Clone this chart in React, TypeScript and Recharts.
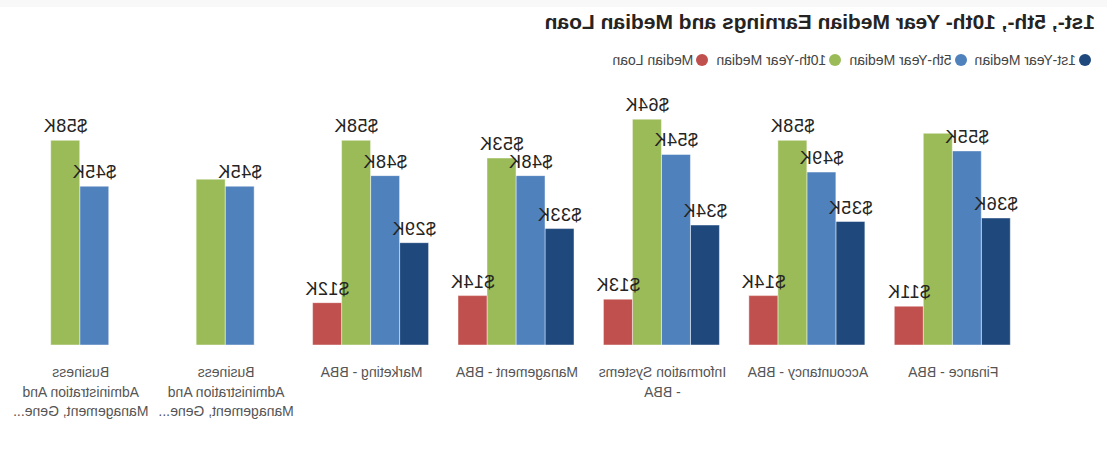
import { BarChart, Bar, XAxis, YAxis, LabelList } from 'recharts';

const categories = [
  'Finance - BBA',
  'Accountancy - BBA',
  'Information Systems - BBA',
  'Management - BBA',
  'Marketing - BBA',
  'Business Administration And Management, General',
  'Business Administration And Management, General',
];

// values in $K
const firstYear = [36, 35, 34, 33, 29, null, null];
const fifthYear = [55, 49, 54, 48, 48, 45, 45];
const tenthYear = [60, 58, 64, 53, 58, 47, 58];
const medianLoan = [11, 14, 13, 14, 12, null, null];

const seriesKeys = ['first', 'fifth', 'tenth', 'loan'];
const seriesNames = ['1st-Year Median', '5th-Year Median', '10th-Year Median', 'Median Loan'];
const seriesColors = ['#1F497D', '#4F81BD', '#9BBB59', '#C0504D'];

// data labels the original report leaves out (overlapping ones)
const hiddenLabels = [
  { index: 0, key: 'tenth' },
  { index: 5, key: 'tenth' },
];

const data = categories.map((category, i) => ({
  category,
  first: firstYear[i],
  fifth: fifthYear[i],
  tenth: tenthYear[i],
  loan: medianLoan[i],
}));

const FONT = '"Liberation Sans", Arial, sans-serif';
const TICK_FONT_SIZE = 14;
const TICK_MAX_WIDTH = 137;

let ctx: CanvasRenderingContext2D | null = null;
function textWidth(s: string) {
  if (!ctx) {
    ctx = document.createElement('canvas').getContext('2d');
  }
  if (!ctx) return s.length * TICK_FONT_SIZE * 0.55;
  ctx.font = `${TICK_FONT_SIZE}px ${FONT}`;
  return ctx.measureText(s).width;
}

function wrapLabel(label: string, maxLines = 3) {
  // keep a lone hyphen together with the word after it
  const raw = label.split(' ');
  const words: string[] = [];
  for (let i = 0; i < raw.length; i++) {
    if (raw[i] === '-' && i + 1 < raw.length) {
      words.push('- ' + raw[i + 1]);
      i++;
    } else {
      words.push(raw[i]);
    }
  }
  const lines: string[] = [];
  let cur = '';
  for (const w of words) {
    const next = cur ? cur + ' ' + w : w;
    if (cur && textWidth(next) > TICK_MAX_WIDTH) {
      lines.push(cur);
      cur = w;
    } else {
      cur = next;
    }
  }
  if (cur) lines.push(cur);
  if (lines.length <= maxLines) return lines;
  let last = lines.slice(maxLines - 1).join(' ');
  while (last.length > 0 && textWidth(last + '...') > TICK_MAX_WIDTH) {
    last = last.slice(0, -1);
  }
  return [...lines.slice(0, maxLines - 1), last + '...'];
}

function CategoryTick(props: any) {
  const { x, y, payload } = props;
  const lines = wrapLabel(String(payload.value));
  return (
    <g>
      {lines.map((line, i) => (
        <text
          key={i}
          x={x}
          y={y + 32 + i * 19.5}
          textAnchor="middle"
          fill="#555"
          style={{ fontFamily: FONT, fontSize: TICK_FONT_SIZE }}
        >
          {line}
        </text>
      ))}
    </g>
  );
}

const makeLabel = (key: string) => (props: any) => {
  const { x, y, width, value, index } = props;
  if (value == null) return null;
  if (hiddenLabels.some((h) => h.index === index && h.key === key)) return null;
  return (
    <text
      x={Number(x) + Number(width) / 2}
      y={Number(y) - 8}
      textAnchor="middle"
      fill="#252423"
      style={{ fontFamily: FONT, fontSize: 18, letterSpacing: 0.5 }}
    >
      {`$${value}K`}
    </text>
  );
};

export default function App() {
  return (
    <div
      style={{
        position: 'absolute',
        top: 0,
        left: 0,
        width: 1107,
        height: 455,
        background: '#fff',
        overflow: 'hidden',
        transform: 'scaleX(-1)',
        fontFamily: FONT,
      }}
    >
      <div style={{ position: 'absolute', top: 0, left: 0, width: 1107, height: 7, background: '#f8f8f8' }} />
      <div
        style={{
          position: 'absolute',
          left: 12,
          top: 10,
          fontSize: 21,
          lineHeight: '24px',
          fontWeight: 700,
          color: '#252423',
          whiteSpace: 'nowrap',
        }}
      >
        1st-, 5th-, 10th- Year Median Earnings and Median Loan
      </div>
      <div
        style={{
          position: 'absolute',
          left: 16,
          top: 52,
          height: 16,
          display: 'flex',
          alignItems: 'center',
          fontSize: 14,
          color: '#444',
          whiteSpace: 'nowrap',
        }}
      >
        {seriesNames.map((name, i) => (
          <div key={name} style={{ display: 'flex', alignItems: 'center', marginRight: 8 }}>
            <span
              style={{
                display: 'inline-block',
                width: 12,
                height: 12,
                borderRadius: 6,
                background: seriesColors[i],
                marginRight: 3,
              }}
            />
            <span>{name}</span>
          </div>
        ))}
      </div>
      <div style={{ position: 'absolute', top: 0, left: 0 }}>
        <BarChart
          width={1107}
          height={455}
          data={data}
          margin={{ top: 98, right: 8, bottom: 40, left: 81 }}
          barCategoryGap="10.8%"
          barGap={0}
        >
          <XAxis
            dataKey="category"
            axisLine={false}
            tickLine={false}
            tickSize={0}
            tickMargin={0}
            height={70}
            interval={0}
            tick={<CategoryTick />}
          />
          <YAxis hide domain={[0, 70]} />
          {seriesKeys.map((key, i) => (
            <Bar
              key={key}
              dataKey={key}
              name={seriesNames[i]}
              fill={seriesColors[i]}
              stroke="rgba(255,255,255,0.45)"
              strokeWidth={1}
              isAnimationActive={false}
            >
              <LabelList dataKey={key} content={makeLabel(key)} />
            </Bar>
          ))}
        </BarChart>
      </div>
    </div>
  );
}
